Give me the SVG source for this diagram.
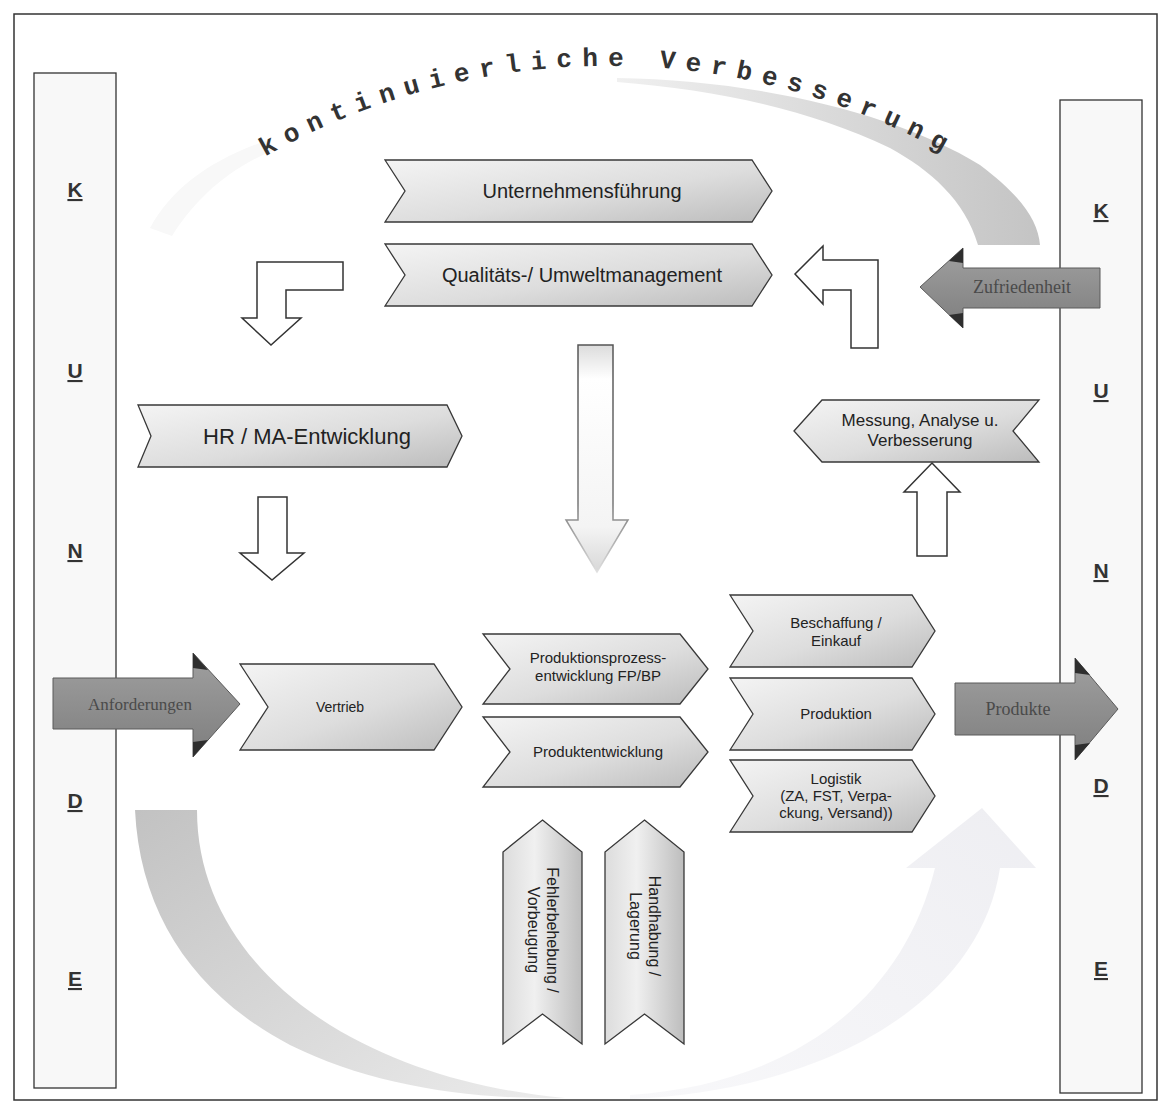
<svg xmlns="http://www.w3.org/2000/svg" width="1161" height="1106" viewBox="0 0 1161 1106">
<defs>
<linearGradient id="gChev" x1="0" y1="0" x2="1" y2="1"><stop offset="0" stop-color="#f4f4f4"/><stop offset="0.55" stop-color="#dddddd"/><stop offset="1" stop-color="#bcbcbc"/></linearGradient>
<linearGradient id="gChevV" x1="0" y1="0" x2="1" y2="0"><stop offset="0" stop-color="#dcdcdc"/><stop offset="0.4" stop-color="#f0f0f0"/><stop offset="1" stop-color="#bdbdbd"/></linearGradient>
<linearGradient id="gDark" x1="0" y1="0" x2="0" y2="1"><stop offset="0" stop-color="#a0a0a0"/><stop offset="1" stop-color="#7e7e7e"/></linearGradient>
<linearGradient id="gSwTop" x1="0" y1="0" x2="1" y2="0"><stop offset="0" stop-color="#f0f0f0"/><stop offset="1" stop-color="#c4c4c4"/></linearGradient>
<linearGradient id="gSwBot" x1="0" y1="0" x2="1" y2="1"><stop offset="0" stop-color="#c2c2c2"/><stop offset="1" stop-color="#ececec"/></linearGradient>
<linearGradient id="gFaint" x1="0" y1="1" x2="1" y2="0"><stop offset="0" stop-color="#f8f8fa"/><stop offset="1" stop-color="#eeeef2"/></linearGradient>
<linearGradient id="gDown" x1="0" y1="0" x2="0" y2="1"><stop offset="0" stop-color="#dcdcdc"/><stop offset="0.15" stop-color="#ffffff"/><stop offset="0.8" stop-color="#f4f4f4"/><stop offset="1" stop-color="#d8d8d8"/></linearGradient>
<linearGradient id="gDownStroke" x1="0" y1="0" x2="0" y2="1"><stop offset="0" stop-color="#555"/><stop offset="0.7" stop-color="#777"/><stop offset="1" stop-color="#e0e0e0"/></linearGradient>
<style>
.chev{fill:url(#gChev);stroke:#383838;stroke-width:1.3}
.chevv{fill:url(#gChevV);stroke:#383838;stroke-width:1.3}
.blk{fill:#ffffff;stroke:#333;stroke-width:1.5}
.dark{fill:url(#gDark);stroke:#5a5a5a;stroke-width:1}
.wedge{fill:#2e2e2e}
.lbl{font-family:"Liberation Sans",Arial,sans-serif;fill:#222;text-anchor:middle}
.ser{font-family:"Liberation Serif","Times New Roman",serif;fill:#4a4a4a;text-anchor:middle}
.cust{font-family:"Liberation Sans",Arial,sans-serif;font-weight:bold;font-size:21px;fill:#333;text-anchor:middle;text-decoration:underline}
.side{fill:#f8f8f8;stroke:#333;stroke-width:1.3}
</style>
<path id="arcTitle" d="M211,191 A692,692 0 0,1 1005,191"/>
</defs>
<rect x="0" y="0" width="1161" height="1106" fill="#ffffff"/>
<rect x="14" y="14" width="1143" height="1086" fill="none" stroke="#333" stroke-width="1.5"/>

<g id="swooshes">
<path d="M617,78 C760,80 900,115 980,165 C1020,195 1038,220 1040,245 L978,245 C965,200 930,170 890,148 C810,110 720,90 617,82 Z" fill="url(#gSwTop)"/>
<path d="M135,810 L197,810 C197,900 250,975 330,1025 C400,1068 480,1090 565,1098 C470,1100 370,1085 290,1045 C195,995 140,915 135,810 Z" fill="url(#gSwBot)"/>
<path d="M630,1095 C780,1085 900,1010 935,868 L906,868 L982,808 L1036,868 L1000,868 C980,1000 830,1090 630,1099 Z" fill="url(#gFaint)"/>
<path d="M150,228 C172,188 210,160 268,140 L274,150 C226,170 195,200 172,236 Z" fill="#f8f8f8"/>
</g>

<text font-family="'Liberation Mono','Courier New',monospace" font-weight="bold" font-size="26" fill="#333" letter-spacing="10"><textPath href="#arcTitle" startOffset="50%" text-anchor="middle">kontinuierliche Verbesserung</textPath></text>

<g id="kunde-left">
<rect class="side" x="34" y="73" width="82" height="1015"/>
<text class="cust" x="75" y="197">K</text>
<text class="cust" x="75" y="378">U</text>
<text class="cust" x="75" y="558">N</text>
<text class="cust" x="75" y="808">D</text>
<text class="cust" x="75" y="986">E</text>
</g>
<g id="kunde-right">
<rect class="side" x="1060" y="100" width="82" height="993"/>
<text class="cust" x="1101" y="218">K</text>
<text class="cust" x="1101" y="398">U</text>
<text class="cust" x="1101" y="578">N</text>
<text class="cust" x="1101" y="793">D</text>
<text class="cust" x="1101" y="976">E</text>
</g>

<g id="connectors">
<path class="blk" d="M257,262 L343,262 L343,290 L286,290 L286,318 L301,318 L271,345 L242,318 L257,318 Z"/>
<path class="blk" d="M795,274 L823,246 L823,260 L878,260 L878,348 L851,348 L851,290 L823,290 L823,304 Z"/>
<path class="blk" d="M258,497 L287,497 L287,553 L304,553 L272,580 L240,553 L258,553 Z"/>
<path class="blk" d="M917,556 L917,492 L904,492 L932,463 L960,492 L947,492 L947,556 Z"/>
<path d="M578,345 L613,345 L613,520 L628,520 L597,572 L566,520 L578,520 Z" fill="url(#gDown)" stroke="url(#gDownStroke)" stroke-width="1.5"/>
</g>

<g id="n-unternehmensfuehrung">
<path class="chev" d="M385,160 L752,160 L772,191 L752,222 L385,222 L405,191 Z"/>
<text class="lbl" x="582" y="198" font-size="20">Unternehmensführung</text>
</g>
<g id="n-qualitaet">
<path class="chev" d="M385,244 L752,244 L772,275 L752,306 L385,306 L405,275 Z"/>
<text class="lbl" x="582" y="282" font-size="20">Qualitäts-/ Umweltmanagement</text>
</g>
<g id="n-hr">
<path class="chev" d="M138,405 L447,405 L462,436 L447,467 L138,467 L151,436 Z"/>
<text class="lbl" x="307" y="444" font-size="22">HR / MA-Entwicklung</text>
</g>
<g id="n-messung">
<path class="chev" d="M794,431 L822,400 L1039,400 L1013,431 L1039,462 L822,462 Z"/>
<text class="lbl" x="920" y="426" font-size="17">Messung, Analyse u.</text>
<text class="lbl" x="920" y="446" font-size="17">Verbesserung</text>
</g>
<g id="n-zufriedenheit">
<path class="dark" d="M920,287 L963,248 L963,268 L1100,268 L1100,308 L963,308 L963,328 Z"/>
<path class="wedge" d="M963,248 L949,261 L963,263 Z"/>
<path class="wedge" d="M963,328 L949,315 L963,313 Z"/>
<text class="ser" x="1022" y="293" font-size="18">Zufriedenheit</text>
</g>
<g id="n-anforderungen">
<path class="dark" d="M53,678 L193,678 L193,653 L240,704 L193,757 L193,729 L53,729 Z"/>
<path class="wedge" d="M193,653 L208,670 L193,668 Z"/>
<path class="wedge" d="M193,757 L208,740 L193,742 Z"/>
<text class="ser" x="140" y="710" font-size="17">Anforderungen</text>
</g>
<g id="n-vertrieb">
<path class="chev" d="M240,664 L434,664 L462,707 L434,750 L240,750 L268,707 Z"/>
<text class="lbl" x="340" y="712" font-size="14">Vertrieb</text>
</g>
<g id="n-produktionsprozess">
<path class="chev" d="M483,634 L680,634 L708,669 L680,704 L483,704 L510,669 Z"/>
<text class="lbl" x="598" y="663" font-size="15">Produktionsprozess-</text>
<text class="lbl" x="598" y="681" font-size="15">entwicklung FP/BP</text>
</g>
<g id="n-produktentwicklung">
<path class="chev" d="M483,717 L680,717 L708,752 L680,787 L483,787 L510,752 Z"/>
<text class="lbl" x="598" y="757" font-size="15">Produktentwicklung</text>
</g>
<g id="n-beschaffung">
<path class="chev" d="M730,595 L912,595 L935,631 L912,667 L730,667 L753,631 Z"/>
<text class="lbl" x="836" y="628" font-size="15">Beschaffung /</text>
<text class="lbl" x="836" y="646" font-size="15">Einkauf</text>
</g>
<g id="n-produktion">
<path class="chev" d="M730,678 L912,678 L935,714 L912,750 L730,750 L753,714 Z"/>
<text class="lbl" x="836" y="719" font-size="15">Produktion</text>
</g>
<g id="n-logistik">
<path class="chev" d="M730,760 L912,760 L935,796 L912,832 L730,832 L753,796 Z"/>
<text class="lbl" x="836" y="784" font-size="15">Logistik</text>
<text class="lbl" x="836" y="801" font-size="15">(ZA, FST, Verpa-</text>
<text class="lbl" x="836" y="818" font-size="15">ckung, Versand))</text>
</g>
<g id="n-produkte">
<path class="dark" d="M955,683 L1075,683 L1075,658 L1118,709 L1075,760 L1075,735 L955,735 Z"/>
<path class="wedge" d="M1075,658 L1090,675 L1075,673 Z"/>
<path class="wedge" d="M1075,760 L1090,743 L1075,745 Z"/>
<text class="ser" x="1018" y="715" font-size="18">Produkte</text>
</g>
<g id="n-fehlerbehebung">
<path class="chevv" d="M542.5,820 L582,852 L582,1044 L542.5,1014 L503,1044 L503,852 Z"/>
<g transform="translate(542.5,930) rotate(90)">
<text class="lbl" x="0" y="-4" font-size="16">Fehlerbehebung /</text>
<text class="lbl" x="0" y="15" font-size="16">Vorbeugung</text>
</g>
</g>
<g id="n-handhabung">
<path class="chevv" d="M644.5,820 L684,852 L684,1044 L644.5,1014 L605,1044 L605,852 Z"/>
<g transform="translate(644.5,926) rotate(90)">
<text class="lbl" x="0" y="-4" font-size="16">Handhabung /</text>
<text class="lbl" x="0" y="15" font-size="16">Lagerung</text>
</g>
</g>
</svg>
